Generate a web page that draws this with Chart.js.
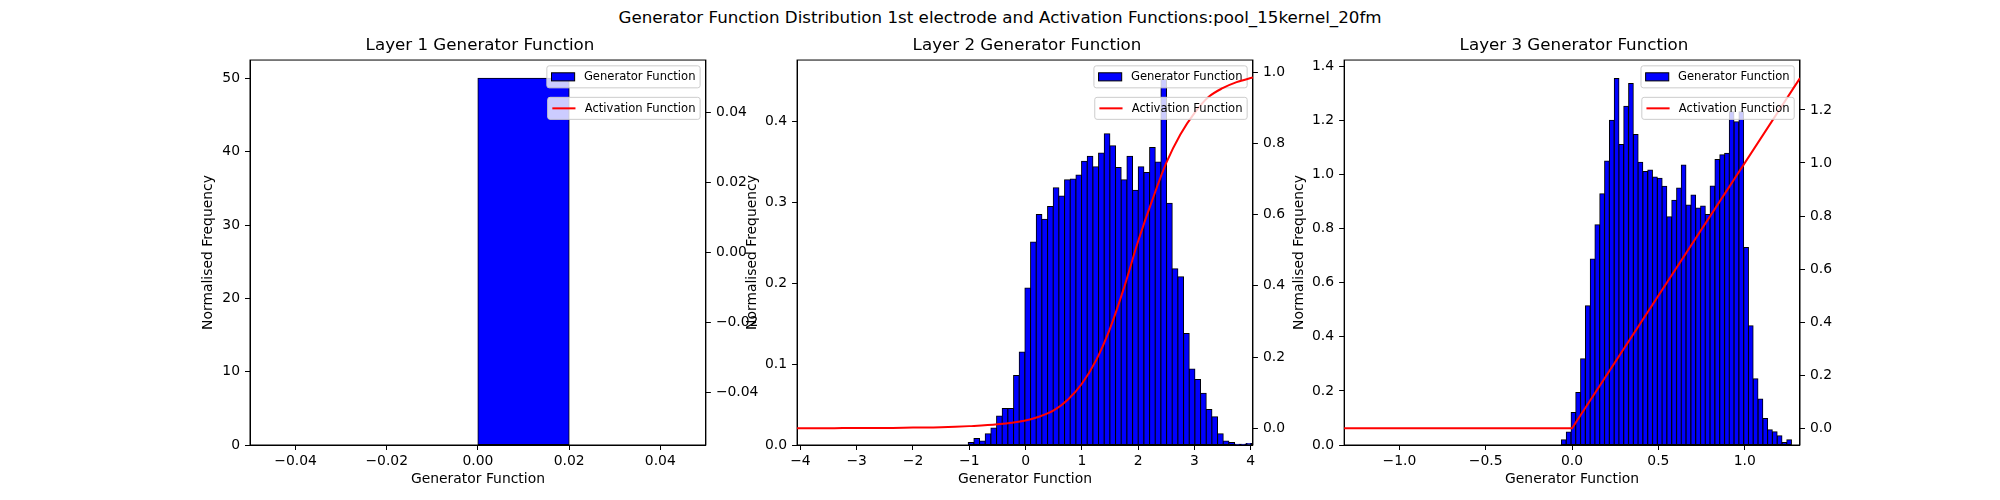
<!DOCTYPE html>
<html>
<head>
<meta charset="utf-8">
<script src="https://cdn.jsdelivr.net/npm/chart.js@4.4.1/dist/chart.umd.min.js"></script>
<style>
  html, body { margin: 0; padding: 0; background: #fff; }
  #page { position: relative; width: 2000px; height: 500px; overflow: hidden; background: #fff; }
  #suptitle { position: absolute; left: 0; top: 7px; width: 2000px; text-align: center;
              font-family: 'DejaVu Sans', sans-serif; font-size: 16.7px; line-height: 20px; color: #000; }
  canvas { position: absolute; top: 0; }
</style>
</head>
<body>
<div id="page">
  <div id="suptitle">Generator Function Distribution 1st electrode and Activation Functions:pool_15kernel_20fm</div>
  <canvas id="layer1"></canvas>
  <canvas id="layer2"></canvas>
  <canvas id="layer3"></canvas>
</div>
<script>
// ---- data ----
const seriesLabels = ["Generator Function", "Activation Function"];
const panelTitles = ["Layer 1 Generator Function", "Layer 2 Generator Function", "Layer 3 Generator Function"];

// layer 1 : every value falls in one bin
const layer1BinCenters = [0.01];
const layer1Density = [50];
const layer1ActX = [];
const layer1ActY = [];

// layer 2 : bin width ~0.1
const layer2BinCenters = [-0.969, -0.868, -0.767, -0.667, -0.566, -0.465, -0.365, -0.264, -0.163, -0.063,
  0.038, 0.139, 0.240, 0.340, 0.441, 0.542, 0.642, 0.743, 0.844, 0.945,
  1.045, 1.146, 1.247, 1.347, 1.448, 1.549, 1.649, 1.750, 1.851, 1.952,
  2.052, 2.153, 2.254, 2.354, 2.455, 2.556, 2.656, 2.757, 2.858, 2.959,
  3.059, 3.160, 3.261, 3.361, 3.462, 3.563, 3.663, 3.764, 3.865, 3.966];
const layer2Density = [0.003, 0.008, 0.005, 0.014, 0.021, 0.036, 0.045, 0.045, 0.086, 0.115,
  0.194, 0.251, 0.285, 0.279, 0.295, 0.318, 0.308, 0.328, 0.329, 0.334,
  0.351, 0.357, 0.344, 0.361, 0.385, 0.370, 0.343, 0.328, 0.357, 0.315,
  0.344, 0.337, 0.368, 0.350, 0.452, 0.299, 0.218, 0.208, 0.138, 0.094,
  0.081, 0.064, 0.044, 0.035, 0.014, 0.005, 0.003, 0.001, 0.001, 0.002];
const layer2ActX = [-4.06, -3.5, -3, -2.5, -2, -1.5, -1, -0.5, 0, 0.25, 0.5, 0.75, 1, 1.25, 1.5, 1.75,
  2, 2.25, 2.5, 2.75, 3, 3.25, 3.5, 3.75, 4.04];
const layer2ActY = [0.000, 0.000, 0.001, 0.001, 0.002, 0.003, 0.006, 0.011, 0.022, 0.033, 0.050, 0.080,
  0.125, 0.190, 0.280, 0.395, 0.525, 0.640, 0.745, 0.825, 0.885, 0.930, 0.955, 0.972, 0.985];

// layer 3 : bin width ~0.028
const layer3BinCenters = [-0.048, -0.020, 0.008, 0.035, 0.063, 0.091, 0.119, 0.146, 0.174, 0.202,
  0.230, 0.258, 0.285, 0.313, 0.341, 0.369, 0.396, 0.424, 0.452, 0.480,
  0.508, 0.535, 0.563, 0.591, 0.619, 0.646, 0.674, 0.702, 0.730, 0.758,
  0.785, 0.813, 0.841, 0.869, 0.897, 0.924, 0.952, 0.980, 1.008, 1.035,
  1.063, 1.091, 1.119, 1.146, 1.174, 1.202, 1.230, 1.257];
const layer3Density = [0.019, 0.048, 0.120, 0.194, 0.319, 0.515, 0.688, 0.815, 0.929, 1.051,
  1.201, 1.356, 1.112, 1.253, 1.337, 1.149, 1.046, 1.012, 1.017, 0.991,
  0.987, 0.957, 0.844, 0.905, 0.951, 1.036, 0.888, 0.925, 0.877, 0.884,
  0.853, 0.958, 1.056, 1.074, 1.079, 1.233, 1.196, 1.233, 0.731, 0.441,
  0.245, 0.170, 0.098, 0.056, 0.049, 0.034, 0.009, 0.019];
const layer3ActX = [-1.32, 0, 1.32];
const layer3ActY = [0, 0, 1.32];

// ticks and axis ranges
const layer1XTicks = [-0.04, -0.02, 0, 0.02, 0.04];
const layer1YTicks = [0, 10, 20, 30, 40, 50];
const layer1Y2Ticks = [-0.04, -0.02, 0, 0.02, 0.04];
const layer2XTicks = [-4, -3, -2, -1, 0, 1, 2, 3, 4];
const layer2YTicks = [0, 0.1, 0.2, 0.3, 0.4];
const layer2Y2Ticks = [0, 0.2, 0.4, 0.6, 0.8, 1.0];
const layer3XTicks = [-1, -0.5, 0, 0.5, 1];
const layer3YTicks = [0, 0.2, 0.4, 0.6, 0.8, 1.0, 1.2, 1.4];
const layer3Y2Ticks = [0, 0.2, 0.4, 0.6, 0.8, 1.0, 1.2];

const layer1XRange = [-0.05, 0.05], layer1YRange = [0, 52.5], layer1Y2Range = [-0.055, 0.055];
const layer2XRange = [-4.06, 4.04], layer2YRange = [0, 0.476], layer2Y2Range = [-0.047, 1.034];
const layer3XRange = [-1.32, 1.32], layer3YRange = [0, 1.424], layer3Y2Range = [-0.063, 1.388];

// ---- layout / style ----
const AXES_LEFT = [250, 797.06, 1344.12];
const AXES_W = 455.88;
const CANVAS_W = 580;
const CANVAS_H = 500;
const XSCALE_H = 55;
const YLABEL_GAP = [42, 44.5, 44.3];
const TICK_FS = 13.9;
const LEGEND_FS = 11.57;
const LEGEND_TOP = [5.8, 37.3];
const LEGEND_H = 22;
const BAR_COLOR = "#0000ff";
const LINE_COLOR = "#ff0000";

Chart.defaults.font.family = "'DejaVu Sans', sans-serif";
Chart.defaults.font.size = TICK_FS;
Chart.defaults.color = "#000";

const fmt = (v, d) => (v < -1e-9 ? "\u2212" : "") + Math.abs(v).toFixed(d);

function drawFrame(chart) {
    const { ctx, chartArea: a } = chart;
    ctx.save();
    ctx.strokeStyle = "#000";
    ctx.lineWidth = 1;
    ctx.strokeRect(a.left, a.top, a.right - a.left, a.bottom - a.top);
    ctx.restore();
}

function drawLegend(chart, slot) {
    const { ctx, chartArea: a } = chart;
    const ds = chart.data.datasets[slot];
    const fs = LEGEND_FS;
    ctx.save();
    ctx.font = `${fs}px 'DejaVu Sans', sans-serif`;
    const textW = ctx.measureText(ds.label).width;
    const w = fs * 0.4 * 2 + fs * 2 + fs * 0.8 + textW;
    const x = a.right - fs * 0.5 - w;
    const y = a.top + LEGEND_TOP[slot];
    ctx.beginPath();
    ctx.roundRect(x, y, w, LEGEND_H, 2.3);
    ctx.fillStyle = "rgba(255,255,255,0.8)";
    ctx.fill();
    ctx.strokeStyle = "#cccccc";
    ctx.lineWidth = 1;
    ctx.stroke();

    const hx = x + fs * 0.4;
    const cy = y + LEGEND_H / 2;
    if (ds.type === "bar") {
        ctx.fillStyle = BAR_COLOR;
        ctx.fillRect(hx, cy - fs * 0.35, fs * 2, fs * 0.7);
        ctx.strokeStyle = "#000";
        ctx.strokeRect(hx, cy - fs * 0.35, fs * 2, fs * 0.7);
    } else {
        ctx.strokeStyle = LINE_COLOR;
        ctx.lineWidth = 2;
        ctx.beginPath();
        ctx.moveTo(hx, cy);
        ctx.lineTo(hx + fs * 2, cy);
        ctx.stroke();
    }
    ctx.fillStyle = "#000";
    ctx.textBaseline = "middle";
    ctx.fillText(ds.label, hx + fs * 2.8, cy + 0.5);
    ctx.restore();
}

const frameAndLegends = {
    id: "frameAndLegends",
    afterDatasetDraw(chart, args) {
        if (args.index !== 0) return;
        drawFrame(chart);
        drawLegend(chart, 0);
    },
    afterDatasetsDraw(chart) {
        drawLegend(chart, 1);
    }
};

function fixedTicks(values) {
    return (scale) => { scale.ticks = values.map(v => ({ value: v })); };
}

function axisLook() {
    return {
        grid: { display: true, drawOnChartArea: false, drawTicks: true, tickLength: 5,
                color: "#000", tickColor: "#000", tickWidth: 1, offset: false },
        border: { display: true, color: "#000", width: 1 }
    };
}

function buildPanel(i, p) {
    const canvas = document.getElementById(p.id);
    const canvasLeft = Math.floor(AXES_LEFT[i]) - 60;
    const wl = AXES_LEFT[i] - canvasLeft;
    const wr = CANVAS_W - wl - AXES_W;
    canvas.width = CANVAS_W;
    canvas.height = CANVAS_H;
    canvas.style.left = canvasLeft + "px";
    canvas.style.width = CANVAS_W + "px";
    canvas.style.height = CANVAS_H + "px";

    const lh = TICK_FS * 1.2;

    new Chart(canvas.getContext("2d"), {
        data: {
            datasets: [{
                type: "bar",
                label: seriesLabels[0],
                data: p.centers.map((x, k) => ({ x: x, y: p.density[k] })),
                backgroundColor: BAR_COLOR,
                borderColor: "#000",
                borderWidth: 1,
                borderSkipped: false,
                inflateAmount: 0.5,
                barPercentage: 1,
                categoryPercentage: 1,
                order: 2,
                xAxisID: "x",
                yAxisID: "y"
            }, {
                type: "line",
                label: seriesLabels[1],
                data: p.actX.map((x, k) => ({ x: x, y: p.actY[k] })),
                borderColor: LINE_COLOR,
                borderWidth: 2,
                pointRadius: 0,
                fill: false,
                cubicInterpolationMode: p.smooth ? "monotone" : "default",
                tension: 0,
                order: 1,
                xAxisID: "x",
                yAxisID: "y2"
            }]
        },
        options: {
            responsive: false,
            animation: false,
            layout: { padding: { top: 36, left: 0, right: 0, bottom: 0 } },
            plugins: {
                legend: { display: false },
                tooltip: { enabled: false },
                title: {
                    display: true,
                    text: panelTitles[i],
                    color: "#000",
                    font: { size: 16.7, weight: "normal" },
                    padding: { top: 0, bottom: 4 }
                }
            },
            scales: {
                x: {
                    type: "linear",
                    position: "bottom",
                    min: p.xRange[0], max: p.xRange[1],
                    bounds: "data",
                    offset: false,
                    afterBuildTicks: fixedTicks(p.xTicks),
                    afterFit: (s) => { s.height = XSCALE_H; },
                    ticks: { autoSkip: false, maxRotation: 0, padding: 3,
                             callback: (v) => fmt(v, p.xDec) },
                    title: { display: true, text: "Generator Function", font: { size: TICK_FS },
                             padding: { top: 0, bottom: 12.1 } },
                    ...axisLook()
                },
                y: {
                    type: "linear",
                    position: "left",
                    min: p.yRange[0], max: p.yRange[1],
                    bounds: "data",
                    afterBuildTicks: fixedTicks(p.yTicks),
                    afterFit: (s) => { s.width = wl; },
                    ticks: { autoSkip: false, padding: 5, callback: (v) => fmt(v, p.yDec) },
                    title: { display: true, text: "Normalised Frequency", font: { size: TICK_FS },
                             padding: { top: wl - YLABEL_GAP[i] - lh / 2, bottom: 0 } },
                    ...axisLook()
                },
                y2: {
                    type: "linear",
                    position: "right",
                    min: p.y2Range[0], max: p.y2Range[1],
                    bounds: "data",
                    afterBuildTicks: fixedTicks(p.y2Ticks),
                    afterFit: (s) => { s.width = wr; },
                    ticks: { autoSkip: false, padding: 5, callback: (v) => fmt(v, p.y2Dec) },
                    ...axisLook()
                }
            }
        },
        plugins: [frameAndLegends]
    });
}

buildPanel(0, {
    id: "layer1", centers: layer1BinCenters, density: layer1Density, actX: layer1ActX, actY: layer1ActY,
    smooth: false, xRange: layer1XRange, yRange: layer1YRange, y2Range: layer1Y2Range,
    xTicks: layer1XTicks, yTicks: layer1YTicks, y2Ticks: layer1Y2Ticks, xDec: 2, yDec: 0, y2Dec: 2
});
buildPanel(1, {
    id: "layer2", centers: layer2BinCenters, density: layer2Density, actX: layer2ActX, actY: layer2ActY,
    smooth: true, xRange: layer2XRange, yRange: layer2YRange, y2Range: layer2Y2Range,
    xTicks: layer2XTicks, yTicks: layer2YTicks, y2Ticks: layer2Y2Ticks, xDec: 0, yDec: 1, y2Dec: 1
});
buildPanel(2, {
    id: "layer3", centers: layer3BinCenters, density: layer3Density, actX: layer3ActX, actY: layer3ActY,
    smooth: false, xRange: layer3XRange, yRange: layer3YRange, y2Range: layer3Y2Range,
    xTicks: layer3XTicks, yTicks: layer3YTicks, y2Ticks: layer3Y2Ticks, xDec: 1, yDec: 1, y2Dec: 1
});
</script>
</body>
</html>
